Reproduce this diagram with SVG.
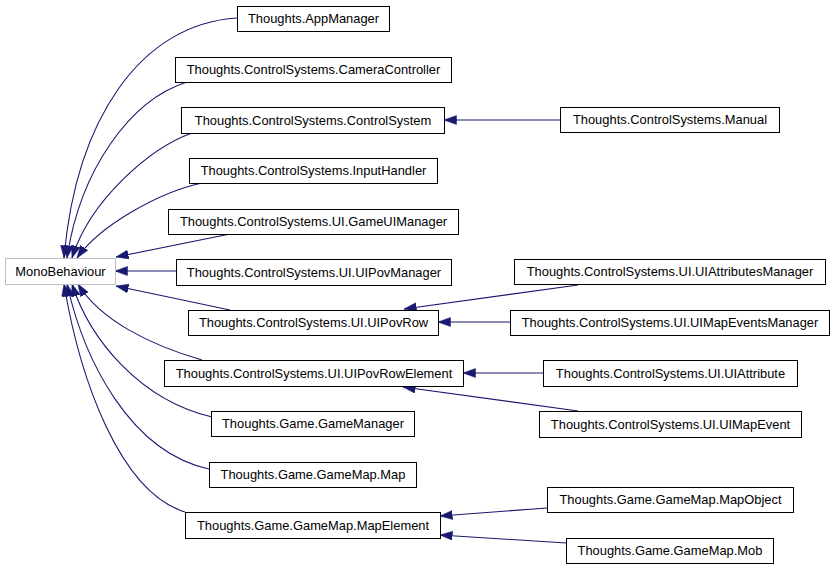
<svg xmlns="http://www.w3.org/2000/svg" width="835" height="569" viewBox="0 0 835 569">
<style>
.n rect{fill:#fff;stroke:#000;stroke-width:1}
.n.g rect{stroke:#bfbfbf}
.n text{font-family:"Liberation Sans",Arial,sans-serif;font-size:12.9px;text-anchor:middle;fill:#000}
.e path{fill:none;stroke:#191970;stroke-width:1.1;marker-end:url(#a)}
</style>
<defs>
<marker id="a" markerUnits="userSpaceOnUse" markerWidth="13" markerHeight="10" refX="12.5" refY="4.5" orient="auto">
<path d="M0,0 L12.5,4.5 L0,9 z" fill="#191970" stroke="#191970" stroke-width="0.5"/>
</marker>
</defs>
<rect width="835" height="569" fill="#fff"/>
<g id="edges" class="e">
<path d="M237,18 C140,24 76,120 64,258"/>
<path d="M187,82 C130,100 80,170 67,258"/>
<path d="M192,133 C150,148 90,200 72,258"/>
<path d="M202,183 C160,192 100,225 77,258"/>
<path d="M230,234 L116,257"/>
<path d="M176,271 L115,271"/>
<path d="M230,310 L116,286"/>
<path d="M202,360 C150,345 100,320 78,284"/>
<path d="M212,417 C140,400 90,340 72,284"/>
<path d="M209,469 C130,452 84,360 67,284"/>
<path d="M185,512 C120,492 80,380 64,284"/>
<path d="M560,120 L444,120"/>
<path d="M578,285 L404,309"/>
<path d="M510,322 L438,322"/>
<path d="M543,373 L463,373"/>
<path d="M578,411 L403,387"/>
<path d="M547,508 L440,516"/>
<path d="M566,543 L440,535"/>
</g>
<g id="MonoBehaviour" class="n g"><rect x="5.5" y="258.5" width="110" height="26"/><text x="60.5" y="276">MonoBehaviour</text></g>
<g id="AppManager" class="n"><rect x="237.5" y="6.5" width="152" height="25"/><text x="313.5" y="23">Thoughts.AppManager</text></g>
<g id="CameraController" class="n"><rect x="175.5" y="57.5" width="276" height="25"/><text x="313.5" y="74">Thoughts.ControlSystems.CameraController</text></g>
<g id="ControlSystem" class="n"><rect x="181.5" y="107.5" width="263" height="26"/><text x="313" y="124.5">Thoughts.ControlSystems.ControlSystem</text></g>
<g id="InputHandler" class="n"><rect x="189.5" y="158.5" width="248" height="25"/><text x="313.5" y="175">Thoughts.ControlSystems.InputHandler</text></g>
<g id="GameUIManager" class="n"><rect x="168.5" y="209.5" width="290" height="25"/><text x="313.5" y="226">Thoughts.ControlSystems.UI.GameUIManager</text></g>
<g id="UIPovManager" class="n"><rect x="176.5" y="259.5" width="275" height="26"/><text x="314" y="276.5">Thoughts.ControlSystems.UI.UIPovManager</text></g>
<g id="UIPovRow" class="n"><rect x="188.5" y="310.5" width="250" height="25"/><text x="313.5" y="327">Thoughts.ControlSystems.UI.UIPovRow</text></g>
<g id="UIPovRowElement" class="n"><rect x="164.5" y="360.5" width="299" height="26"/><text x="314" y="377.5">Thoughts.ControlSystems.UI.UIPovRowElement</text></g>
<g id="GameManager" class="n"><rect x="211.5" y="411.5" width="203" height="25"/><text x="313" y="428">Thoughts.Game.GameManager</text></g>
<g id="Map" class="n"><rect x="209.5" y="462.5" width="207" height="25"/><text x="313" y="479">Thoughts.Game.GameMap.Map</text></g>
<g id="MapElement" class="n"><rect x="185.5" y="512.5" width="255" height="26"/><text x="313" y="529.5">Thoughts.Game.GameMap.MapElement</text></g>
<g id="Manual" class="n"><rect x="560.5" y="107.5" width="219" height="25"/><text x="670" y="124">Thoughts.ControlSystems.Manual</text></g>
<g id="UIAttributesManager" class="n"><rect x="514.5" y="259.5" width="311" height="25"/><text x="670" y="276">Thoughts.ControlSystems.UI.UIAttributesManager</text></g>
<g id="UIMapEventsManager" class="n"><rect x="510.5" y="310.5" width="319" height="25"/><text x="670" y="327">Thoughts.ControlSystems.UI.UIMapEventsManager</text></g>
<g id="UIAttribute" class="n"><rect x="543.5" y="360.5" width="254" height="26"/><text x="670.5" y="377.5">Thoughts.ControlSystems.UI.UIAttribute</text></g>
<g id="UIMapEvent" class="n"><rect x="539.5" y="411.5" width="262" height="26"/><text x="670.5" y="428.5">Thoughts.ControlSystems.UI.UIMapEvent</text></g>
<g id="MapObject" class="n"><rect x="547.5" y="487.5" width="246" height="25"/><text x="670.5" y="504">Thoughts.Game.GameMap.MapObject</text></g>
<g id="Mob" class="n"><rect x="566.5" y="538.5" width="207" height="25"/><text x="670" y="555">Thoughts.Game.GameMap.Mob</text></g>
</svg>
